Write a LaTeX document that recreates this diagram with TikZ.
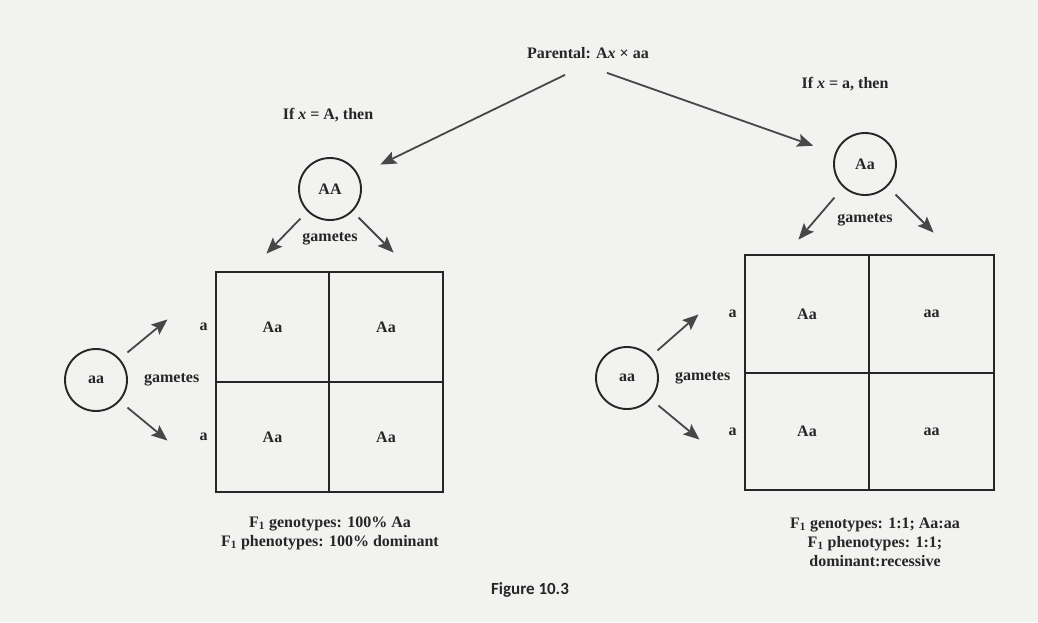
\documentclass[tikz,border=0pt]{standalone}
\usepackage{fontspec}
\setmainfont{Liberation Serif}
\newfontfamily\figsans{Carlito}
\usepackage{xcolor}
\usepackage{tikz}
\usetikzlibrary{positioning, arrows.meta, calc}

\definecolor{ink}{HTML}{262626}
\definecolor{paper}{HTML}{F2F2F1}

\begin{document}
\begin{tikzpicture}[
    x=1pt, y=-1pt,
    txt/.style={font=\fontsize{16}{19}\selectfont\bfseries, text=ink, inner sep=1pt, align=center},
    gen/.style={txt, draw=ink, line width=1.9pt, circle, minimum size=62pt},
    cell/.style={txt, draw=ink, line width=1.9pt, outer sep=0pt},
    lcell/.style={cell, minimum width=113.5pt, minimum height=110pt},
    rcell/.style={cell, minimum width=124.5pt, minimum height=117.5pt},
    arr/.style={-{Stealth[length=16pt, width=13pt, inset=3pt]}, line width=1.8pt, draw=ink!85}
]
% page
\fill[paper] (0,0) rectangle (1038,622);
\useasboundingbox (0,0) rectangle (1038,622);
% parental cross
\node[txt] (par) at (588,53) {Parental: A\textit{x} × aa};
\node[txt] (ifA) at (328,115) {If \textit{x} = A, then};
\node[txt] (ifa) at (845,84) {If \textit{x} = a, then};
% parents
\node[gen] (AA) at (330,189) {AA};
\node[gen] (Aa) at (865,164) {Aa};
\node[gen] (aaL) at (96,380) {aa};
\node[gen] (aaR) at (627,378) {aa};
\draw[arr, shorten >=24pt] ($(par.south)+(-23,15)$) -- (AA);
\draw[arr, shorten >=23pt] ($(par.south)+(19,13)$) -- (Aa);
% left square, x = A
\node[lcell] (L11) at (272.5,327) {Aa};
\node[lcell, right=0pt of L11] (L12) {Aa};
\node[lcell, below=0pt of L11] (L21) {Aa};
\node[lcell, right=0pt of L21] (L22) {Aa};
\node[txt, left=7pt of L11] (La1) {a};
\node[txt, left=7pt of L21] (La2) {a};
\node[txt, below=10pt of AA] (gamAA) {gametes};
\node[txt, right=15pt of aaL] (gamL) {gametes};
\draw[arr] (AA.-135) ++(-7,7) -- ++(-34,35);
\draw[arr] (AA.-45) ++(6,6) -- ++(35,35);
\draw[arr] (aaL.40) ++(7,-7) -- ++(40,-33);
\draw[arr] (aaL.-40) ++(7,7) -- ++(40,33);
% right square, x = a
\node[rcell] (R11) at (807,314) {Aa};
\node[rcell, right=0pt of R11] (R12) {aa};
\node[rcell, below=0pt of R11] (R21) {Aa};
\node[rcell, right=0pt of R21] (R22) {aa};
\node[txt, left=7pt of R11] (Ra1) {a};
\node[txt, left=7pt of R21] (Ra2) {a};
\node[txt, below=16pt of Aa] (gamAa) {gametes};
\node[txt, right=15pt of aaR] (gamR) {gametes};
\draw[arr] (Aa.-135) ++(-8,11) -- ++(-36,42);
\draw[arr] (Aa.-45) ++(8,8) -- ++(38,38);
\draw[arr] (aaR.40) ++(6,-7) -- ++(41,-36);
\draw[arr] (aaR.-40) ++(7,7) -- ++(41,34);
% results
\node[txt] (resL) at (330,533) {F\textsubscript{1} genotypes: 100\% Aa\\F\textsubscript{1} phenotypes: 100\% dominant};
\node[txt] (resR) at (875,542) {F\textsubscript{1} genotypes: 1:1; Aa:aa\\F\textsubscript{1} phenotypes: 1:1;\\dominant:recessive};
\node[font=\figsans\bfseries\fontsize{17}{20}\selectfont, text=ink] (fig) at (530,590) {Figure 10.3};
\end{tikzpicture}
\end{document}
